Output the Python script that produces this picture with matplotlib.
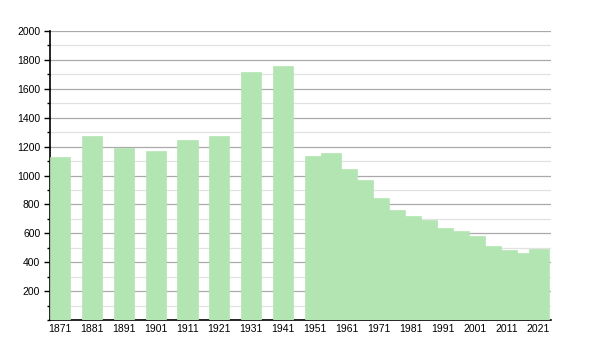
import numpy as np
import matplotlib.pyplot as plt
from matplotlib.ticker import MultipleLocator

plt.rcParams['font.family'] = ['Liberation Sans', 'DejaVu Sans']

# Population by census year
years = [1871, 1881, 1891, 1901, 1911, 1921, 1931, 1941,
         1951, 1956, 1961, 1966, 1971, 1976, 1981, 1986, 1991, 1996,
         2001, 2006, 2011, 2016, 2021]
population = [1125, 1272, 1190, 1170, 1244, 1272, 1713, 1760,
              1134, 1155, 1042, 966, 847, 764, 718, 690, 640, 614,
              584, 515, 481, 467, 492]
xtick_years = list(range(1871, 2022, 10))

bar_color = '#b3e5b3'

fig = plt.figure(figsize=(6, 3.5), dpi=100)
ax = fig.add_axes([50/600, 30/350, 501/600, 289/350])

ax.bar(years, population, width=6.3, color=bar_color, edgecolor=bar_color,
       linewidth=0.5, zorder=3)

ax.set_xlim(1867.9, 2024.9)
ax.set_ylim(0, 2000)
ax.set_xticks(xtick_years)
ax.set_yticks(range(200, 2001, 200))
ax.yaxis.set_minor_locator(MultipleLocator(100))

ax.grid(axis='y', which='major', color='#aaaaaa', linewidth=0.9, zorder=0)
ax.grid(axis='y', which='minor', color='#e2e2e2', linewidth=0.9, zorder=0)

for s in ['top', 'right']:
    ax.spines[s].set_visible(False)
ax.spines['left'].set_linewidth(1.2)
ax.spines['bottom'].set_linewidth(1.2)

ax.tick_params(axis='x', length=0, labelsize=7.5, pad=3)
ax.tick_params(axis='y', which='major', length=4, width=1, labelsize=7.5, pad=3)
ax.tick_params(axis='y', which='minor', length=2.5, width=1)

fig.savefig('out.png', dpi=100)
